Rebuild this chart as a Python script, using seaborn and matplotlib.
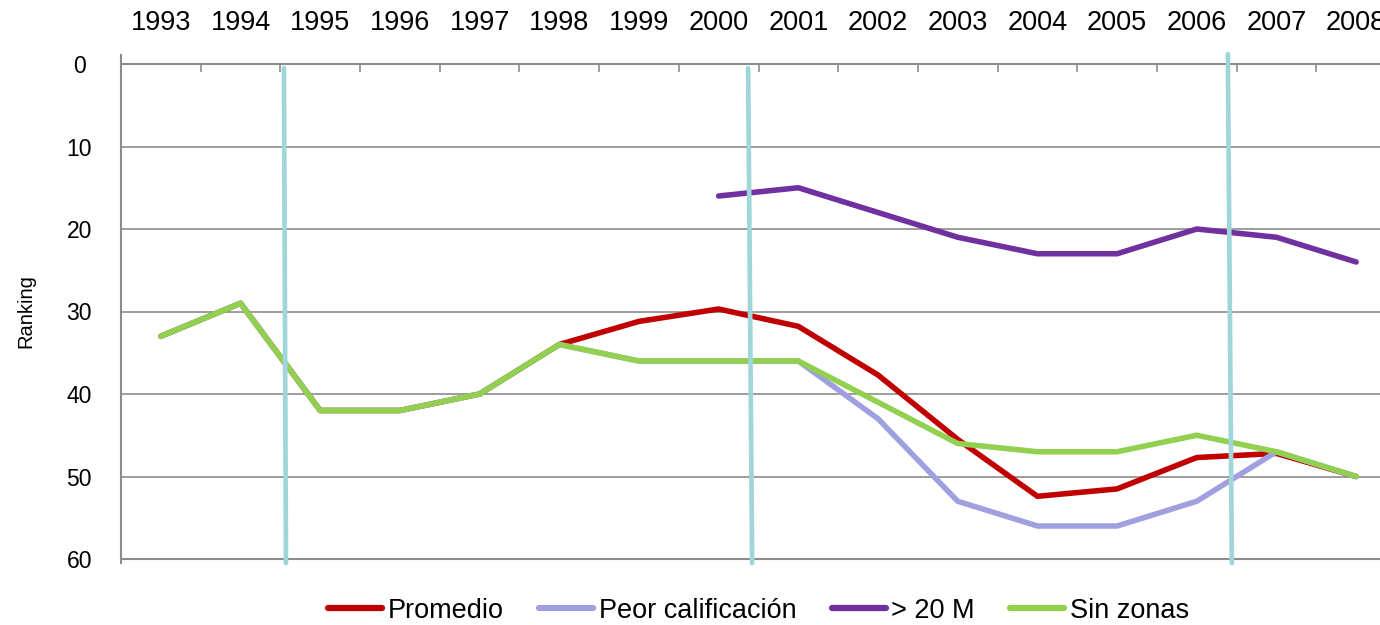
import numpy as np
import pandas as pd
import matplotlib
matplotlib.use("Agg")
import matplotlib.pyplot as plt
from matplotlib.ticker import FixedLocator
import seaborn as sns

# ---------------------------------------------------------
# Data (ranking, lower is better)
# ---------------------------------------------------------
years = [1993, 1994, 1995, 1996, 1997, 1998, 1999, 2000,
         2001, 2002, 2003, 2004, 2005, 2006, 2007, 2008]

promedio = [33, 29, 42, 42, 40, 34, 31.2, 29.7,
            31.8, 37.7, 45.5, 52.4, 51.5, 47.7, 47.2, 50]
peor_calificacion = [33, 29, 42, 42, 40, 34, 36, 36,
                     36, 43, 53, 56, 56, 53, 47, 50]
mas_20m = [np.nan, np.nan, np.nan, np.nan, np.nan, np.nan, np.nan, 16,
           15, 18, 21, 23, 23, 20, 21, 24]
sin_zonas = [33, 29, 42, 42, 40, 34, 36, 36,
             36, 41, 46, 47, 47, 45, 47, 50]

series_names = ["Promedio", "Peor calificación", "> 20 M", "Sin zonas"]
series_values = [promedio, peor_calificacion, mas_20m, sin_zonas]
series_colors = ["#C00000", "#A0A0E0", "#7030A0", "#92D050"]

# hand-drawn period separators (category units), slightly slanted
sep_x_top = [1.545, 7.37, 13.39]
sep_x_bottom = [1.57, 7.42, 13.44]
sep_y_top = [0.5, 0.5, -1.2]
sep_y_bottom = [60.5, 60.5, 60.5]

y_ticks = [0, 10, 20, 30, 40, 50, 60]

# ---------------------------------------------------------
# Figure
# ---------------------------------------------------------
sns.set_theme(style="white")
plt.rcParams["font.family"] = ["Liberation Sans", "DejaVu Sans"]
plt.rcParams["text.color"] = "black"
plt.rcParams["axes.labelcolor"] = "black"

W, H = 1380, 625
fig = plt.figure(figsize=(W / 100, H / 100), dpi=100)
ax = fig.add_axes([121 / W, 1 - 559 / H, 1275 / W, 495 / H])

idx = np.arange(len(years))
grid_color = "#8C8C8C"

for y in y_ticks[1:]:
    ax.axhline(y, color=grid_color, lw=1.2, zorder=1)

for name, vals, col in zip(series_names, series_values, series_colors):
    df = pd.DataFrame({"idx": idx, "rank": vals}).dropna()
    sns.lineplot(data=df, x="idx", y="rank", ax=ax, color=col, lw=4.0,
                 label=name, sort=False, zorder=3, solid_capstyle="round")

for xt, xb, yt, yb in zip(sep_x_top, sep_x_bottom, sep_y_top, sep_y_bottom):
    ax.plot([xt, xb], [yt, yb], color="#A0D6DA", lw=3.4, zorder=4,
            clip_on=False, label="_nolegend_")

ax.set_xlim(-0.5, len(years) - 0.5)
ax.set_ylim(60, 0)

# x axis on top, labels at category centres, ticks on boundaries
ax.xaxis.set_ticks_position("top")
ax.xaxis.set_label_position("top")
ax.set_xticks(idx)
ax.set_xticklabels([str(y) for y in years])
ax.xaxis.set_minor_locator(FixedLocator(np.arange(0.5, len(years), 1.0)))
ax.tick_params(axis="x", which="major", length=0, pad=20, labelsize=19.5,
               colors="black")
ax.tick_params(axis="x", which="minor", direction="in", length=6,
               width=1.2, color=grid_color, top=True, bottom=False)

ax.set_yticks(y_ticks)
ax.set_yticklabels([str(v) for v in y_ticks])
for lab in ax.get_yticklabels():
    lab.set_horizontalalignment("center")
ax.tick_params(axis="y", length=0, pad=30, labelsize=16.5, colors="black")

ax.set_xlabel("")
ax.set_ylabel("Ranking", fontsize=14.5, color="black")
ax.yaxis.set_label_coords(-0.067, 0.5)

for side in ["right", "bottom"]:
    ax.spines[side].set_visible(False)
for side in ["top", "left"]:
    ax.spines[side].set_color(grid_color)
    ax.spines[side].set_linewidth(1.5)
ax.spines["left"].set_bounds(60.5, -1.1)
ax.axhline(60, color=grid_color, lw=1.5, zorder=1, clip_on=False)

leg = ax.legend(loc="center", bbox_to_anchor=(0.5, -0.105), ncol=4,
                frameon=False, fontsize=19.5, handlelength=2.0,
                handletextpad=0.2, columnspacing=1.3)
for line in leg.get_lines():
    line.set_linewidth(4.5)
for txt in leg.get_texts():
    txt.set_color("black")

fig.savefig("out.png", dpi=100)
plt.close(fig)
